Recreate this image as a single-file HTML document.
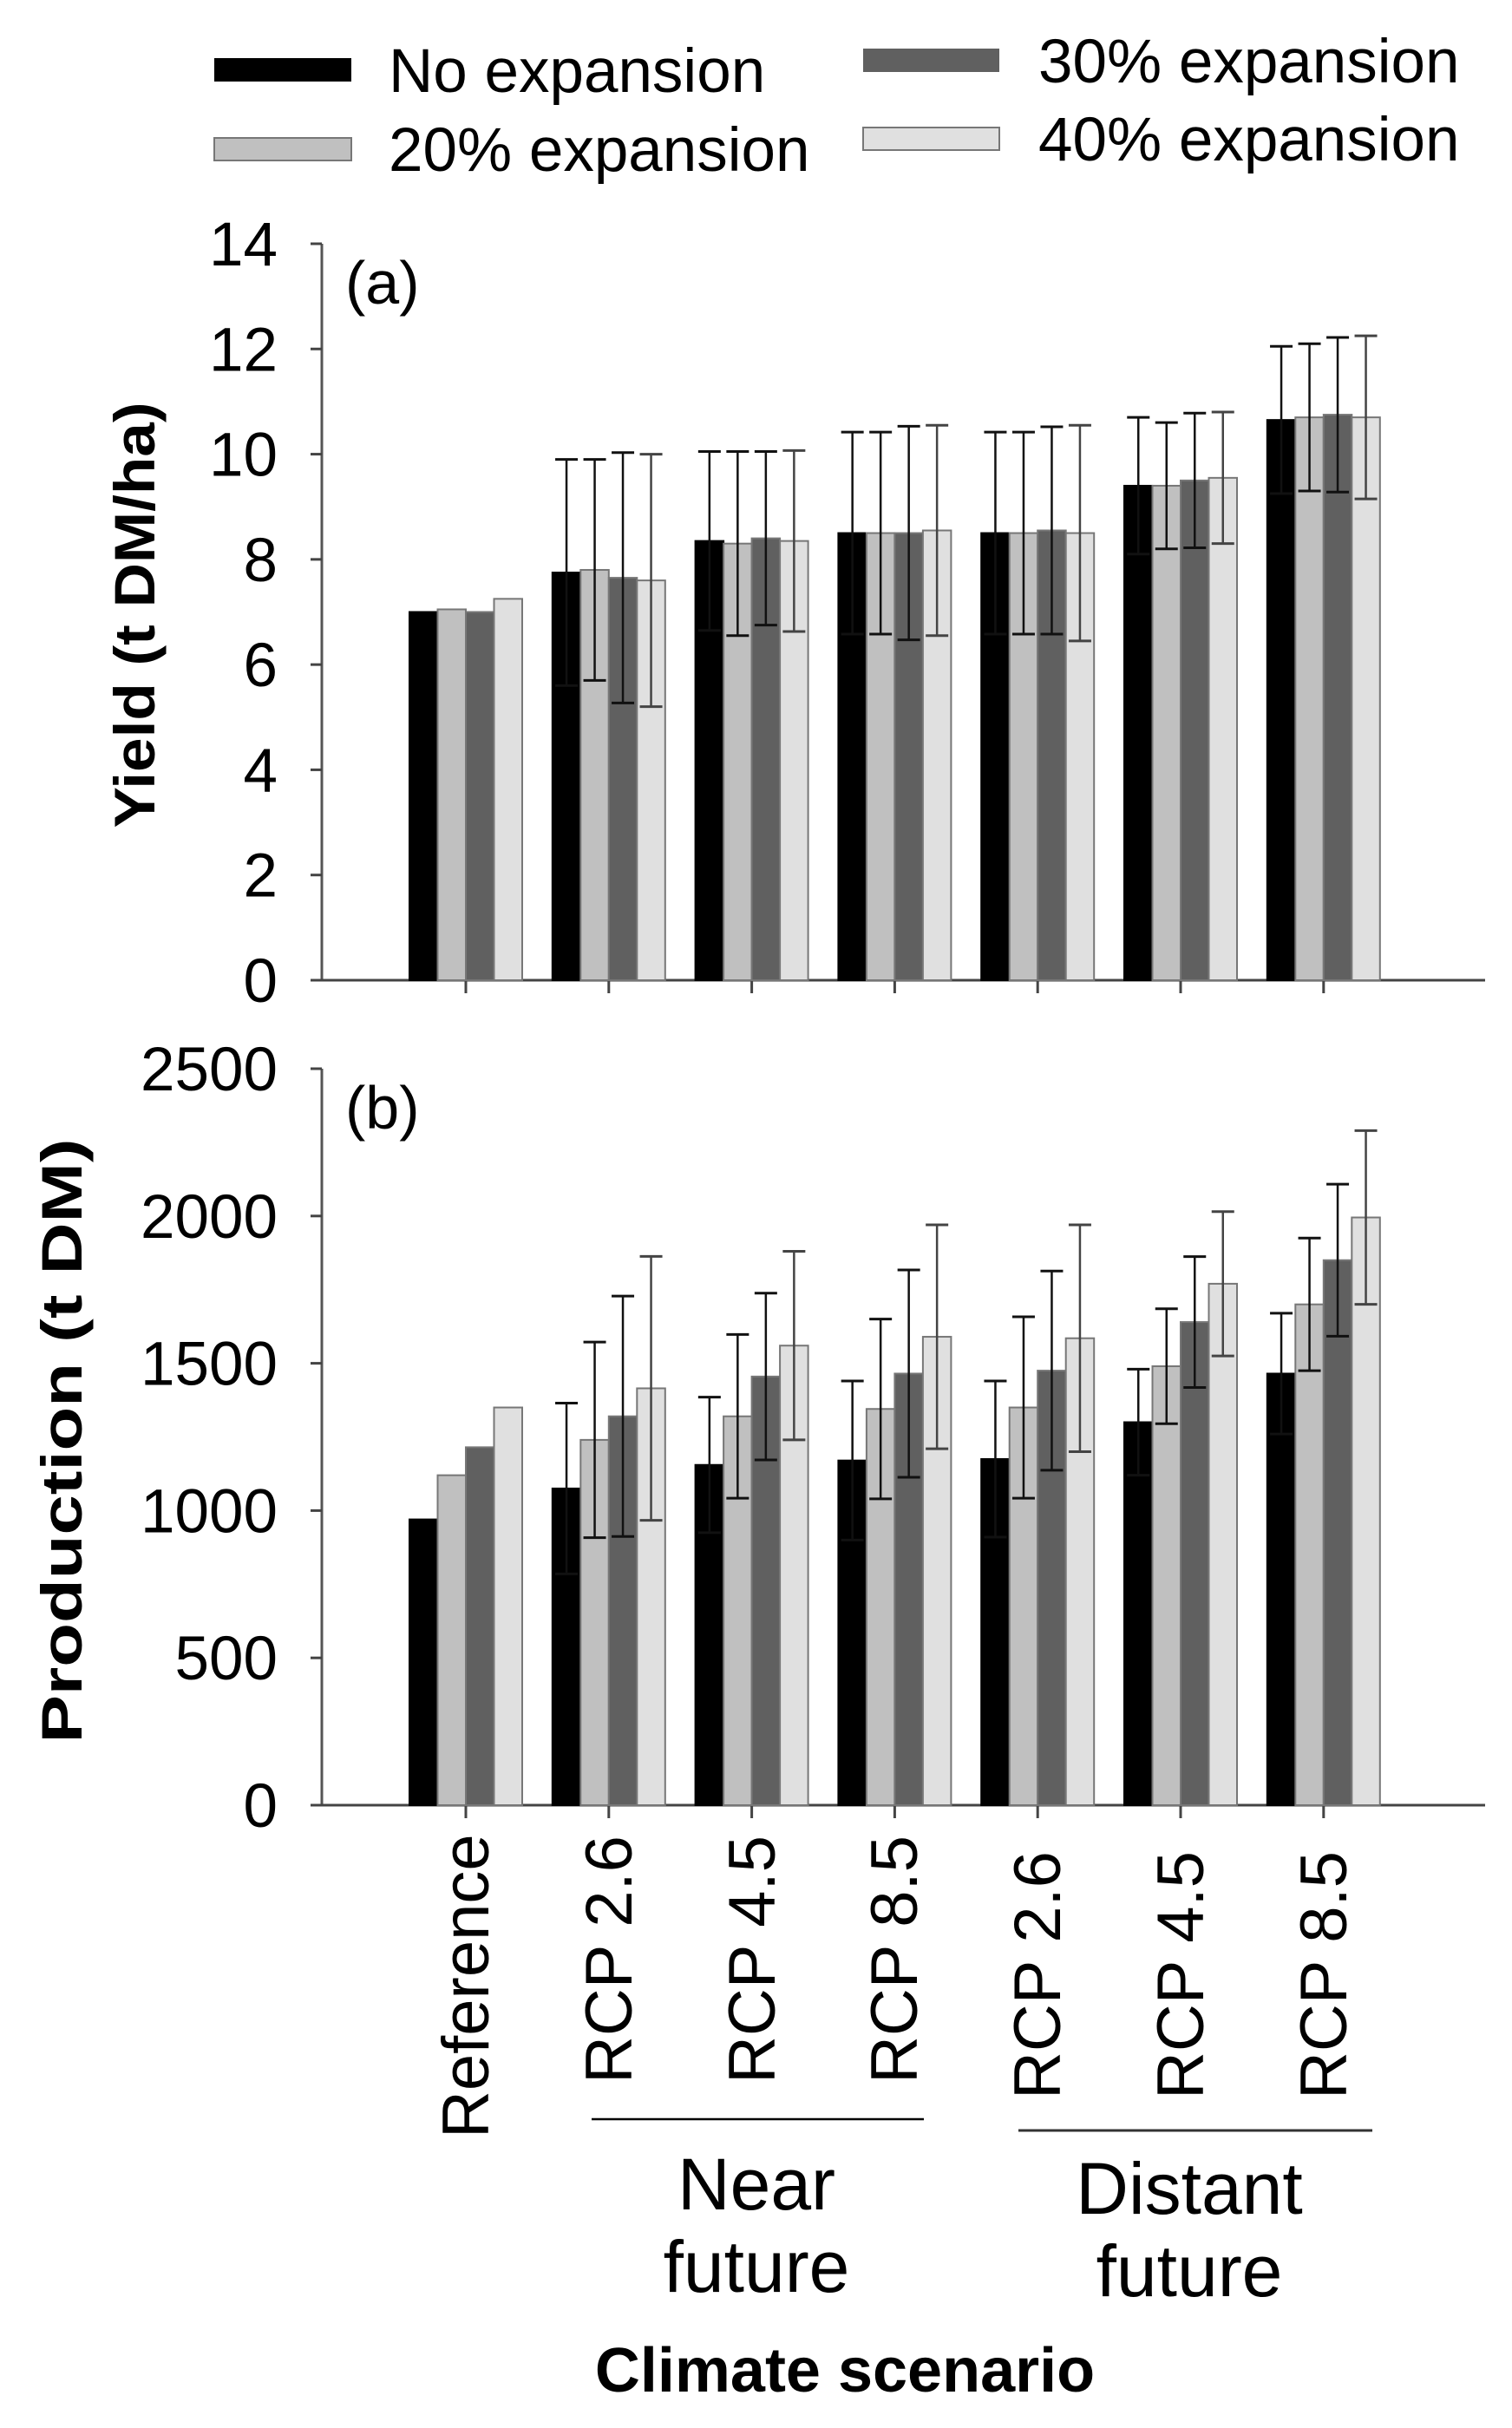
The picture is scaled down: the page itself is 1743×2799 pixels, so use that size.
<!DOCTYPE html>
<html><head><meta charset="utf-8"><style>
html,body{margin:0;padding:0;background:#fff;}
svg{display:block;}
text{font-family:"Liberation Sans",Arial,sans-serif;fill:#000;}
</style></head><body>
<svg id="s" width="1743" height="2799" viewBox="0 0 1743 2799" xmlns="http://www.w3.org/2000/svg">
<rect width="1743" height="2799" fill="#fff"/>
<!-- legend -->
<rect x="247" y="67" width="158" height="27" fill="#000"/>
<text x="448" y="106" font-size="71">No expansion</text>
<rect x="247" y="159" width="158" height="26" fill="#c0c0c0" stroke="#777" stroke-width="2"/>
<text x="448" y="197" font-size="71">20% expansion</text>
<rect x="995" y="56" width="157" height="27" fill="#606060"/>
<text x="1197" y="95" font-size="71">30% expansion</text>
<rect x="995" y="147" width="157" height="26" fill="#e0e0e0" stroke="#777" stroke-width="2"/>
<text x="1197" y="185" font-size="71">40% expansion</text>
<g id="g"></g>
<!-- labels -->
<text x="398" y="350" font-size="70">(a)</text>
<text x="398" y="1301" font-size="70">(b)</text>
<text transform="translate(178,709) rotate(-90)" text-anchor="middle" font-size="66" font-weight="bold" textLength="491" lengthAdjust="spacingAndGlyphs">Yield (t DM/ha)</text>
<text transform="translate(94,1661) rotate(-90)" text-anchor="middle" font-size="66" font-weight="bold" textLength="697" lengthAdjust="spacingAndGlyphs">Production (t DM)</text>
<g font-size="76">
<text transform="translate(563,2465) rotate(-90)">Reference</text>
<text transform="translate(728,2402) rotate(-90)">RCP 2.6</text>
<text transform="translate(893,2402) rotate(-90)">RCP 4.5</text>
<text transform="translate(1057,2402) rotate(-90)">RCP 8.5</text>
<text transform="translate(1222,2420) rotate(-90)">RCP 2.6</text>
<text transform="translate(1387,2420) rotate(-90)">RCP 4.5</text>
<text transform="translate(1552,2420) rotate(-90)">RCP 8.5</text>
</g>
<line x1="682" y1="2443" x2="1065" y2="2443" stroke="#000" stroke-width="2.5"/>
<line x1="1174" y1="2456" x2="1582" y2="2456" stroke="#333" stroke-width="3"/>
<text x="872" y="2547" text-anchor="middle" font-size="84">Near</text>
<text x="872" y="2642" text-anchor="middle" font-size="84">future</text>
<text x="1371" y="2552" text-anchor="middle" font-size="84">Distant</text>
<text x="1371" y="2647" text-anchor="middle" font-size="84">future</text>
<text x="974" y="2757" text-anchor="middle" font-size="72" font-weight="bold">Climate scenario</text>
</svg>
<script>
var NS="http://www.w3.org/2000/svg",G=document.getElementById("g");
function el(t,a){var e=document.createElementNS(NS,t);for(var k in a)e.setAttribute(k,a[k]);G.appendChild(e);return e;}
var cols=["#000","#c0c0c0","#606060","#e0e0e0"];
var centers=[];for(var k=0;k<7;k++)centers.push(537+164.8*k);
var yld=[[7.0,0],[7.05,0],[7.0,0],[7.25,0],
[7.75,2.15],[7.8,2.1],[7.65,2.38],[7.6,2.4],
[8.35,1.7],[8.3,1.75],[8.4,1.65],[8.35,1.72],
[8.5,1.92],[8.5,1.92],[8.5,2.03],[8.55,2.0],
[8.5,1.92],[8.5,1.92],[8.55,1.97],[8.5,2.05],
[9.4,1.3],[9.4,1.2],[9.5,1.28],[9.55,1.25],
[10.65,1.4],[10.7,1.4],[10.75,1.47],[10.7,1.55]];
var prd=[[970,0],[1120,0],[1215,0],[1350,0],
[1075,290],[1240,332],[1320,408],[1415,448],
[1155,230],[1320,278],[1455,283],[1560,320],
[1170,270],[1345,305],[1465,352],[1590,380],
[1175,265],[1350,308],[1475,338],[1585,385],
[1300,180],[1490,195],[1640,222],[1770,245],
[1465,205],[1700,225],[1850,258],[1995,295]];
function panel(data,y0,ytop,vmax,step){
  var sc=(y0-ytop)/vmax;
  el("line",{x1:371,y1:ytop,x2:371,y2:y0,stroke:"#555","stroke-width":3});
  el("line",{x1:358,y1:y0,x2:1712,y2:y0,stroke:"#444","stroke-width":3});
  for(var v=0;v<=vmax+1e-9;v+=step){var y=y0-v*sc;
    el("line",{x1:358,y1:y,x2:371,y2:y,stroke:"#444","stroke-width":3});
    var t=el("text",{x:320,y:y+25,"text-anchor":"end","font-size":71});t.textContent=v;}
  centers.forEach(function(c){el("line",{x1:c,y1:y0,x2:c,y2:y0+15,stroke:"#444","stroke-width":3});});
  var bw=32.5;
  for(var g=0;g<7;g++)for(var i=0;i<4;i++){
    var d=data[g*4+i],x=centers[g]-2*bw+i*bw,h=d[0]*sc;
    el("rect",{x:x,y:y0-h,width:bw,height:h,fill:cols[i],stroke:i==0?"#000":"#777","stroke-width":2});
  }
  for(var g=0;g<7;g++)for(var i=0;i<4;i++){
    var d=data[g*4+i];if(!d[1])continue;var cx=centers[g]-2*bw+i*bw+bw/2;
    var yt=y0-(d[0]+d[1])*sc,yb=y0-(d[0]-d[1])*sc;
    var c=(i==3)?"#444":"#111";
    el("line",{x1:cx,y1:yt,x2:cx,y2:yb,stroke:c,"stroke-width":2.5});
    el("line",{x1:cx-13,y1:yt,x2:cx+13,y2:yt,stroke:c,"stroke-width":3});
    el("line",{x1:cx-13,y1:yb,x2:cx+13,y2:yb,stroke:c,"stroke-width":3});
  }
}
panel(yld,1130,281,14,2);
panel(prd,2081,1232,2500,500);
</script>
</body></html>
